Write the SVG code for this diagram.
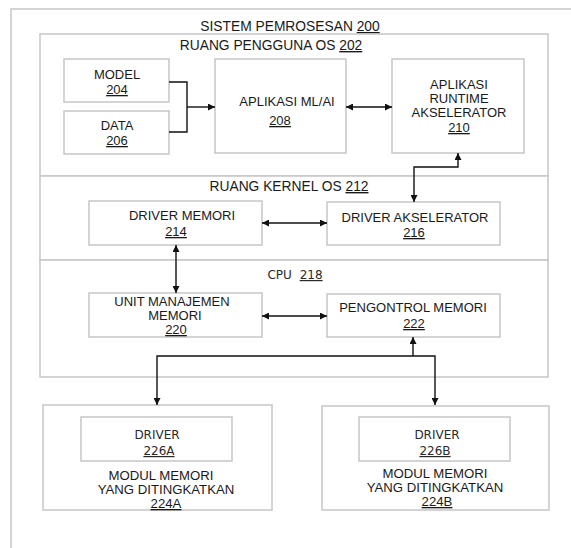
<svg xmlns="http://www.w3.org/2000/svg" width="571" height="548" viewBox="0 0 571 548">
<style>
text{font-family:"Liberation Sans",Arial,sans-serif;font-size:13px;fill:#1a1a1a;text-anchor:middle}
.t{font-size:13.8px}
.m{font-size:13.2px}
.d{font-family:"DejaVu Sans",Verdana,sans-serif;font-size:12px;fill:#2a2a2a}
.n{text-decoration:underline}
.box{fill:#fff;stroke:#c6c6c6;stroke-width:1.5}
.c{fill:none;stroke:#111;stroke-width:1.4}
</style>
<defs>
<marker id="a" viewBox="0 0 10 10" refX="10" refY="5" markerWidth="9" markerHeight="7" markerUnits="userSpaceOnUse" orient="auto-start-reverse">
<path d="M0,0L10,5L0,10z" fill="#111"/>
</marker>
</defs>
<rect width="571" height="548" fill="#fff"/>
<g id="sistem">
<rect class="box" x="11" y="9" width="600" height="600"/>
<text class="t" x="290" y="31">SISTEM PEMROSESAN <tspan class="n">200</tspan></text>
</g>
<g id="ruang-pengguna">
<rect class="box" x="40" y="34" width="508" height="142"/>
<text class="t" x="271" y="50">RUANG PENGGUNA OS <tspan class="n">202</tspan></text>
</g>
<g id="ruang-kernel">
<rect class="box" x="40" y="176" width="508" height="84"/>
<text class="t" x="289" y="191">RUANG KERNEL OS <tspan class="n">212</tspan></text>
</g>
<g id="cpu">
<rect class="box" x="40" y="260" width="508" height="117"/>
<text class="d" x="295" y="279">CPU <tspan dx="4" class="n">218</tspan></text>
</g>
<g id="model">
<rect class="box" x="64" y="59" width="105" height="43"/>
<text x="117" y="79">MODEL</text>
<text x="117" y="94" class="n">204</text>
</g>
<g id="data">
<rect class="box" x="64" y="111" width="105" height="43"/>
<text x="117" y="130">DATA</text>
<text x="117" y="145" class="n">206</text>
</g>
<g id="ml-ai">
<rect class="box" x="215" y="59" width="131" height="94"/>
<text x="287" y="106">APLIKASI ML/AI</text>
<text x="280" y="125" class="n">208</text>
</g>
<g id="runtime">
<rect class="box" x="392" y="59" width="132" height="94"/>
<text x="459" y="89">APLIKASI</text>
<text x="459" y="103">RUNTIME</text>
<text x="459" y="117">AKSELERATOR</text>
<text x="459" y="132" class="n">210</text>
</g>
<g id="driver-memori">
<rect class="box" x="89" y="201" width="173" height="44"/>
<text x="182" y="220">DRIVER MEMORI</text>
<text x="176" y="236" class="n">214</text>
</g>
<g id="driver-akselerator">
<rect class="box" x="327" y="202" width="173" height="43"/>
<text x="415" y="222">DRIVER AKSELERATOR</text>
<text x="414" y="237" class="n">216</text>
</g>
<g id="mmu">
<rect class="box" x="89" y="293" width="173" height="44"/>
<text x="172" y="306">UNIT MANAJEMEN</text>
<text x="175" y="320">MEMORI</text>
<text x="176" y="334" class="n">220</text>
</g>
<g id="pengontrol">
<rect class="box" x="327" y="294" width="173" height="43"/>
<text x="413" y="312">PENGONTROL MEMORI</text>
<text x="414" y="328" class="n">222</text>
</g>
<g id="modul-a">
<rect class="box" x="43" y="405" width="229" height="105"/>
<rect class="box" x="81" y="417" width="151" height="44"/>
<text class="d" x="157" y="439">DRIVER</text>
<text class="d n" x="159" y="455">226A</text>
<text class="m" x="161" y="480">MODUL MEMORI</text>
<text class="m" x="166" y="494">YANG DITINGKATKAN</text>
<text class="m n" x="166" y="508">224A</text>
</g>
<g id="modul-b">
<rect class="box" x="322" y="406" width="227" height="104"/>
<rect class="box" x="359" y="417" width="151" height="44"/>
<text class="d" x="437" y="439">DRIVER</text>
<text class="d n" x="435" y="455">226B</text>
<text class="m" x="435" y="478">MODUL MEMORI</text>
<text class="m" x="435" y="492">YANG DITINGKATKAN</text>
<text class="m n" x="437" y="506">224B</text>
</g>
<g id="connectors">
<path class="c" d="M169,82H187V132H169"/>
<path class="c" d="M187,107H215" marker-end="url(#a)"/>
<path class="c" d="M346,107H392" marker-start="url(#a)" marker-end="url(#a)"/>
<path class="c" d="M414,202V167H458V153" marker-start="url(#a)" marker-end="url(#a)"/>
<path class="c" d="M262,223H327" marker-start="url(#a)" marker-end="url(#a)"/>
<path class="c" d="M176,245V293" marker-start="url(#a)" marker-end="url(#a)"/>
<path class="c" d="M262,316H327" marker-start="url(#a)" marker-end="url(#a)"/>
<path class="c" d="M413,356V337" marker-end="url(#a)"/>
<path class="c" d="M157,405V356H435V405" marker-start="url(#a)" marker-end="url(#a)"/>
</g>
</svg>
